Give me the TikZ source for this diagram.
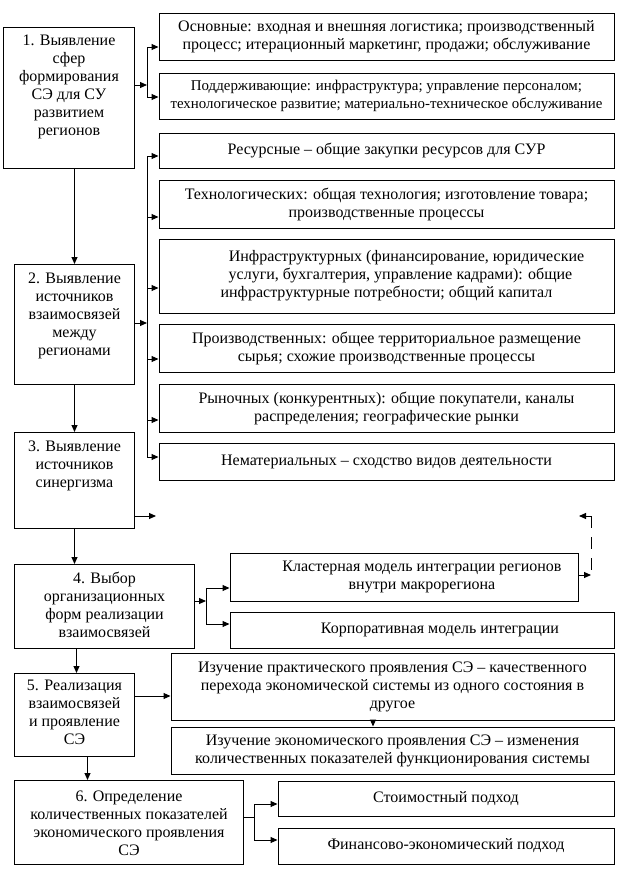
\documentclass[tikz,border=0pt]{standalone}
\usepackage{fontspec}
\setmainfont{Liberation Serif}
\usetikzlibrary{arrows.meta,calc}
\tikzset{
  box/.style={draw, line width=1pt, inner sep=0pt, align=center},
  arr/.style={line width=1pt, -{Triangle[length=7pt,width=6pt]}},
  ln/.style={line width=1pt},
  dsh/.style={line width=1pt, dash pattern=on 12pt off 9pt}
}
% right box: centered text
\newcommand{\rbox}[7][]{\node[box,minimum width={(#5-#3)*1pt},minimum height={(#6-#4)*1pt},#1] (#2) at ({(#3+#5)/2*1pt},{-(#4+#6)/2*1pt}) {#7};}
% left box: top aligned text
\newcommand{\lbox}[7]{\pgfmathsetmacro\bw{#4-#2}\pgfmathsetmacro\bh{#5-#3}\node[box,anchor=north west] (#1) at (#2pt,-#3pt) {\parbox[c][\bh pt][t]{\bw pt}{\centering\vspace*{#6pt}#7\par}};}
\begin{document}
\begin{tikzpicture}[x=1pt,y=1pt,font=\fontsize{16}{18}\selectfont]
\useasboundingbox (0,0) rectangle (618,-876);
% left column
\lbox{b1}{3}{27}{134}{168}{7}{1. Выявление\\сфер\\формирования\\СЭ для СУ\\развитием\\регионов}
\lbox{b2}{14}{264}{134}{384}{8}{2. Выявление\\источников\\взаимосвязей\\между\\регионами}
\lbox{b3}{14}{432}{134}{528}{8}{3. Выявление\\источников\\синергизма}
\lbox{b4}{14}{564}{194}{648}{8}{4. Выбор\\организационных\\форм реализации\\взаимосвязей}
\lbox{b5}{14}{673}{134}{756}{7}{5. Реализация\\взаимосвязей\\и проявление\\СЭ}
\lbox{b6}{14}{780}{243}{864}{10}{6. Определение\\количественных показателей\\экономического проявления\\СЭ}
% right boxes
\rbox{A}{159}{13}{614}{60}{Основные: входная и внешняя логистика; производственный\\процесс; итерационный маркетинг, продажи; обслуживание}
\rbox[font=\fontsize{14.9}{18}\selectfont]{B}{159}{73}{614}{119}{Поддерживающие: инфраструктура; управление персоналом;\\технологическое развитие; материально-техническое обслуживание}
\rbox{C}{159}{133}{614}{168}{Ресурсные – общие закупки ресурсов для СУР}
\rbox{D}{159}{180}{614}{228}{Технологических: общая технология; изготовление товара;\\производственные процессы}
\rbox{E}{159}{239}{614}{313}{\hspace*{40pt}Инфраструктурных (финансирование, юридические\\\hspace*{28pt}услуги, бухгалтерия, управление кадрами): общие\\инфраструктурные потребности; общий капитал}
\rbox{F}{159}{324}{614}{372}{Производственных: общее территориальное размещение\\сырья; схожие производственные процессы}
\rbox{G}{159}{384}{614}{432}{Рыночных (конкурентных): общие покупатели, каналы\\распределения; географические рынки}
\rbox{H}{159}{443}{614}{480}{Нематериальных – сходство видов деятельности}
\rbox{CL}{230}{553}{578}{601}{\hspace*{36pt}Кластерная модель интеграции регионов\\\hspace*{36pt}внутри макрорегиона}
\rbox{CO}{230}{612}{614}{648}{\hspace*{36pt}Корпоративная модель интеграции}
\rbox{PR}{171}{653}{614}{720}{Изучение практического проявления СЭ – качественного\\перехода экономической системы из одного состояния в\\другое}
\rbox{EC}{171}{727}{614}{774}{Изучение экономического проявления СЭ – изменения\\количественных показателей функционирования системы}
\rbox{ST}{278}{781}{614}{816}{Стоимостный подход}
\rbox{FI}{278}{828}{614}{864}{Финансово-экономический подход}
% coordinates
\coordinate (p1) at (147,-85);
\coordinate (p1a) at (147,-47);
\coordinate (p1b) at (147,-97);
\coordinate (p2) at (147,-323);
\coordinate (q1) at (147,-156);
\coordinate (q2) at (147,-217);
\coordinate (q3) at (147,-288);
\coordinate (q4) at (147,-359);
\coordinate (q5) at (147,-420);
\coordinate (q6) at (147,-457);
\coordinate (p3) at (156,-516);
\coordinate (d1) at (579,-516);
\coordinate (d2) at (591,-516);
\coordinate (d3) at (591,-575);
\coordinate (p4) at (206,-601);
\coordinate (p4a) at (206,-588);
\coordinate (p4b) at (206,-624);
\coordinate (p6) at (254,-817);
\coordinate (p6a) at (254,-804);
\coordinate (p6b) at (254,-840);
% box 1 fan-out
\draw[arr] (b1.east |- p1) -- (p1);
\draw[ln] (p1a) -- (p1b);
\draw[arr] (p1a) -- (p1a -| A.west);
\draw[arr] (p1b) -- (p1b -| B.west);
% box 2 fan-out
\draw[arr] (b2.east |- p2) -- (p2);
\draw[ln] (q1) -- (q6);
\foreach \q/\n in {q1/C,q2/D,q3/E,q4/F,q5/G,q6/H}{\draw[arr] (\q) -- (\q -| \n.west);}
% vertical chain
\draw[arr] (b2.north |- b1.south) -- (b2.north);
\draw[arr] (b2.south) -- (b3.north);
\draw[arr] (b2.south |- b3.south) -- (b2.south |- b4.north);
\draw[arr] ([xshift=-28pt]b4.south) -- ([xshift=-28pt]b4.south |- b5.north);
\draw[arr] ([xshift=13pt]b5.south) -- ([xshift=13pt]b5.south |- b6.north);
% box 3 arrow and dashed link
\draw[arr] (b3.east |- p3) -- (p3);
\draw[line width=1pt, {Triangle[length=7pt,width=6pt]}-] (d1) -- (d2);
\draw[dsh] (d2) -- (d3);
\draw[arr] (CL.east |- d3) -- (d3);
% box 4 fan-out
\draw[arr] (b4.east |- p4) -- (p4);
\draw[ln] (p4a) -- (p4b);
\draw[arr] (p4a) -- (p4a -| CL.west);
\draw[arr] (p4b) -- (p4b -| CO.west);
% box 5
\draw[arr] (b5.east |- 0,-696) -- (PR.west |- 0,-696);
\draw[arr] (PR.south -| 373,0) -- (EC.north -| 373,0);
% box 6 fan-out
\draw[ln] (b6.east |- p6) -- (p6);
\draw[ln] (p6a) -- (p6b);
\draw[arr] (p6a) -- (p6a -| ST.west);
\draw[arr] (p6b) -- (p6b -| FI.west);
\end{tikzpicture}
\end{document}
